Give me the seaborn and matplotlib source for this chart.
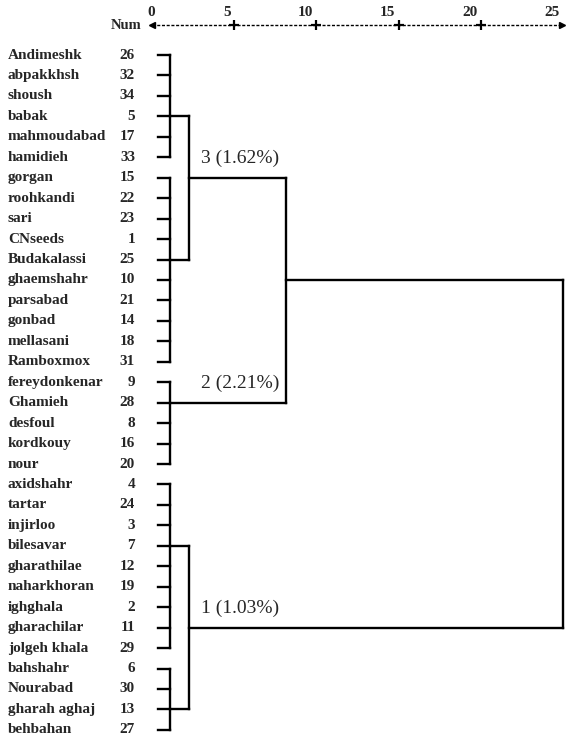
import matplotlib
matplotlib.use("Agg")
import matplotlib.pyplot as plt
import seaborn as sns
import pandas as pd

# ---------------- data ----------------
names = ["Andimeshk", "abpakkhsh", "shoush", "babak", "mahmoudabad", "hamidieh",
         "gorgan", "roohkandi", "sari", "CNseeds", "Budakalassi", "ghaemshahr",
         "parsabad", "gonbad", "mellasani", "Ramboxmox", "fereydonkenar", "Ghamieh",
         "desfoul", "kordkouy", "nour", "axidshahr", "tartar", "injirloo",
         "bilesavar", "gharathilae", "naharkhoran", "ighghala", "gharachilar",
         "jolgeh khala", "bahshahr", "Nourabad", "gharah aghaj", "behbahan"]
nums = [26, 32, 34, 5, 17, 33, 15, 22, 23, 1, 25, 10, 21, 14, 18, 31, 9, 28,
        8, 16, 20, 4, 24, 3, 7, 12, 19, 2, 11, 29, 6, 30, 13, 27]

# first-level groups of leaves: (first row, last row, connector row)
group_first = [0, 6, 16, 21, 30]
group_last = [5, 15, 20, 29, 33]
group_conn = [3, 10, 17, 24, 32]
leaf_dist = 0.37      # rescaled distance where leaf lines start
group_dist = 1.1      # rescaled distance of first-level merges

# clusters: which groups they hold, merge distance, connector row, label
cluster_groups = [[0, 1], [2], [3, 4]]
cluster_dist = [2.26, 1.1, 2.26]
cluster_conn = [6, 17, 28]
cluster_labels = ["3 (1.62%)", "2 (2.21%)", "1 (1.03%)"]

# higher merges: cluster 3 + cluster 2, then with cluster 1
merge23_dist = 8.17
merge23_conn = 11
final_dist = 25.0

axis_ticks = [0, 5, 10, 15, 20, 25]

# ---------------- build segments ----------------
segs = []
sid_list = []
def add(x0, y0, x1, y1):
    sid = len(sid_list)
    sid_list.append(sid)
    segs.append({"seg": sid, "x": x0, "y": y0})
    segs.append({"seg": sid, "x": x1, "y": y1})

# leaf stubs
for r in range(len(names)):
    add(leaf_dist, r, group_dist, r)
# group verticals
for a, b in zip(group_first, group_last):
    add(group_dist, a, group_dist, b)
# clusters
cluster_right = [merge23_dist, merge23_dist, final_dist]
for gs, d, c, xr in zip(cluster_groups, cluster_dist, cluster_conn, cluster_right):
    conns = [group_conn[g] for g in gs]
    if len(gs) > 1:
        for cr in conns:
            add(group_dist, cr, d, cr)
        add(d, min(conns), d, max(conns))
    add(d, c, xr, c)
# merge of clusters 3 and 2
add(merge23_dist, cluster_conn[0], merge23_dist, cluster_conn[1])
add(merge23_dist, merge23_conn, final_dist, merge23_conn)
# final merge
add(final_dist, merge23_conn, final_dist, cluster_conn[2])

df = pd.DataFrame(segs)

# ---------------- layout ----------------
sns.set_theme(style="white")
plt.rcParams["font.family"] = ["Liberation Serif", "DejaVu Serif"]

W, H = 566, 735
fig = plt.figure(figsize=(W / 100, H / 100), dpi=100)
ax = fig.add_axes([0, 0, 1, 1])

px_per_unit = 16.44
x0_px = 152
row0_px = 55
row_px = 20.45
ax.set_xlim(-x0_px / px_per_unit, (W - x0_px) / px_per_unit)
ax.set_ylim((H - row0_px) / row_px, -row0_px / row_px)
ax.axis("off")

sns.lineplot(data=df, x="x", y="y", units="seg", estimator=None, sort=False,
             color="black", linewidth=1.7, ax=ax, legend=False)
for line in ax.lines:
    line.set_solid_capstyle("projecting")

# leaf labels
name_x = (8 - x0_px) / px_per_unit
num_x = (135 - x0_px) / px_per_unit
for r, (n, k) in enumerate(zip(names, nums)):
    ax.text(name_x, r, n, ha="left", va="center", fontsize=11, fontweight="bold")
    ax.text(num_x, r, str(k), ha="right", va="center", fontsize=11, fontweight="bold")

# cluster labels
for c, lab in zip(cluster_conn, cluster_labels):
    ax.text(3.0, c - 0.95, lab, ha="left", va="center", fontsize=14)

# header axis
axis_y = (25 - row0_px) / row_px
lab_y = (12 - row0_px) / row_px
ax.plot([axis_ticks[0], axis_ticks[-1]], [axis_y, axis_y], color="black",
        linewidth=1.0, linestyle=(0, (2.2, 1.2)))
ax.plot(axis_ticks[1:-1], [axis_y] * (len(axis_ticks) - 2), linestyle="none",
        marker="+", markersize=7, markeredgewidth=1.6, color="black")
ax.plot([axis_ticks[0]], [axis_y], marker="<", markersize=4, color="black", linestyle="none")
ax.plot([axis_ticks[-1] - 0.05], [axis_y], marker=">", markersize=4, color="black", linestyle="none")
for t in axis_ticks:
    if t == 0:
        ax.text(t + 0.2, lab_y, str(t), ha="right", va="center", fontsize=11, fontweight="bold")
    else:
        ax.text(t - 0.2, lab_y, str(t), ha="right", va="center", fontsize=11, fontweight="bold")
ax.text((141 - x0_px) / px_per_unit, axis_y, "Num", ha="right", va="center",
        fontsize=10.5, fontweight="bold")

fig.savefig("out.png", dpi=100)
